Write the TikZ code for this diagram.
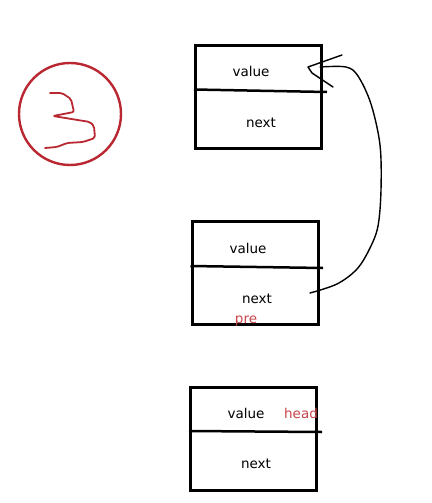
\documentclass[tikz,border=0pt]{standalone}
\usepackage{fontspec}
\setmainfont{DejaVu Sans}
\definecolor{penred}{RGB}{185,40,50}
\definecolor{labred}{RGB}{200,70,75}
\begin{document}
\begin{tikzpicture}[x=1pt,y=-1pt,
  cell/.style={draw=black,line width=3pt,minimum width=126pt,minimum height=103pt,inner sep=0pt},
  divider/.style={draw=black,line width=2.5pt},
  lbl/.style={font=\fontsize{13.5}{15}\selectfont,inner sep=0pt,anchor=base},
  redlbl/.style={lbl,text=labred},
  pen/.style={line width=1.4pt,line join=round,line cap=round}]
\useasboundingbox[fill=white] (0,0) rectangle (431,503);
% circled three
\node[draw=penred,circle,line width=2.4pt,minimum size=102pt,inner sep=0pt] (c3) at (70,114) {};
\draw[penred,line width=1.8pt,line join=round,line cap=round,rounded corners=2pt]
  (50,93) -- (62,93) -- (71,99) -- (74,112) -- (53,116) -- (90,122) -- (94,126)
  -- (95,138) -- (83,142) -- (67,143) -- (57,147) -- (45,148);
% boxes
\node[cell] (b1) at (258.5,97) {};
\node[cell] (b2) at (255,273) {};
\node[cell] (b3) at (253.5,438.5) {};
\draw[divider] (b1.west |- 0,89.5) -- (327,92);
\draw[divider] (b2.west |- 0,266) -- (323,268);
\draw[divider] (b3.west |- 0,431) -- (322,432);
% labels
\node[lbl] (v1) at (251,77) {value};
\node[lbl] (n1) at (261,127) {next};
\node[lbl] (v2) at (248,253) {value};
\node[lbl] (n2) at (257,303) {next};
\node[redlbl] (p2) at (246,323) {pre};
\node[lbl] (v3) at (246,418) {value};
\node[redlbl] (h3) at (301,418) {head};
\node[lbl] (n3) at (256,468) {next};
% hand-drawn pointer from box 2 next to box 1 value
\coordinate (tailpt) at (310,293);
\coordinate (tippt) at (320,67);
\draw[pen] plot[smooth,tension=0.55] coordinates {(tailpt) (337,284) (357,269) (370,248)
  (378,226) (381,190) (380,145) (371,104) (358,76) (346,67) (tippt)};
\draw[pen] (342,55) -- (308,67) -- (312,73) -- (333,87);
\end{tikzpicture}
\end{document}
